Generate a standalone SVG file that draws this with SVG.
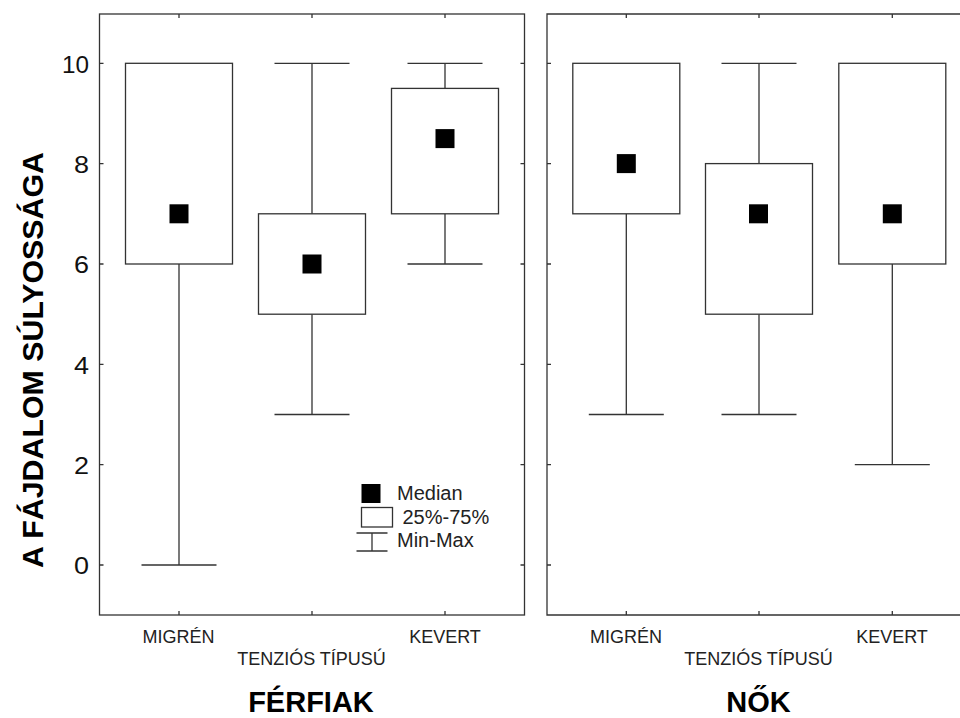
<svg xmlns="http://www.w3.org/2000/svg" width="960" height="718" viewBox="0 0 960 718">
<style>
.ln{stroke:#333;stroke-width:1.3;fill:none}
.bx{stroke:#333;stroke-width:1.3;fill:#fff}
.md{fill:#000}
.tk{font-family:"Liberation Sans",Arial,sans-serif;font-size:23px;fill:#111;text-anchor:end}
.cat{font-family:"Liberation Sans",Arial,sans-serif;font-size:18px;fill:#222;text-anchor:middle}
.ttl{font-family:"Liberation Sans",Arial,sans-serif;font-size:29px;font-weight:bold;fill:#000;text-anchor:middle}
.lg{font-family:"Liberation Sans",Arial,sans-serif;font-size:20px;fill:#222}
</style>
<rect width="960" height="718" fill="#fff"/>

<g id="panel-ferfiak">
<rect class="ln" x="99.5" y="14" width="425" height="601"/>
<path class="ln" d="M99.5 63.3h4M99.5 163.6h4M99.5 264h4M99.5 364.3h4M99.5 464.7h4M99.5 565h4M524.5 63.3h-4M524.5 163.6h-4M524.5 264h-4M524.5 364.3h-4M524.5 464.7h-4M524.5 565h-4M179 14v4M312 14v4M445 14v4M179 615v-4M312 615v-4M445 615v-4"/>
</g>

<g id="panel-nok">
<path class="ln" d="M961 14H547V615H961"/>
<path class="ln" d="M547 63.3h4M547 163.6h4M547 264h4M547 364.3h4M547 464.7h4M547 565h4M626.3 14v4M759 14v4M892.3 14v4M626.3 615v-4M759 615v-4M892.3 615v-4"/>
</g>

<g id="y-axis">
<text class="tk" x="89" y="72.5" textLength="27" lengthAdjust="spacingAndGlyphs">10</text>
<text class="tk" x="89" y="172.8" textLength="15" lengthAdjust="spacingAndGlyphs">8</text>
<text class="tk" x="89" y="273.2" textLength="15" lengthAdjust="spacingAndGlyphs">6</text>
<text class="tk" x="89" y="373.5" textLength="15" lengthAdjust="spacingAndGlyphs">4</text>
<text class="tk" x="89" y="473.9" textLength="15" lengthAdjust="spacingAndGlyphs">2</text>
<text class="tk" x="89" y="574.2" textLength="15" lengthAdjust="spacingAndGlyphs">0</text>
<text class="ttl" font-size="30" transform="translate(42.5,360) rotate(-90)" textLength="416" lengthAdjust="spacingAndGlyphs">A FÁJDALOM SÚLYOSSÁGA</text>
</g>

<g id="box-ferfiak-migren">
<path class="ln" d="M179 264V565M141.5 565h75"/>
<rect class="bx" x="125.5" y="63.3" width="107" height="200.7"/>
<rect class="md" x="169.5" y="204.3" width="19" height="19"/>
</g>
<g id="box-ferfiak-tenzios">
<path class="ln" d="M312 213.8V63.3M274.5 63.3h75M312 314.2V414.5M274.5 414.5h75"/>
<rect class="bx" x="258.5" y="213.8" width="107" height="100.4"/>
<rect class="md" x="302.5" y="254.5" width="19" height="19"/>
</g>
<g id="box-ferfiak-kevert">
<path class="ln" d="M445 88.4V63.3M407.5 63.3h75M445 213.8V264M407.5 264h75"/>
<rect class="bx" x="391.5" y="88.4" width="107" height="125.4"/>
<rect class="md" x="435.5" y="129.1" width="19" height="19"/>
</g>

<g id="box-nok-migren">
<path class="ln" d="M626.3 213.8V414.5M588.8 414.5h75"/>
<rect class="bx" x="572.8" y="63.3" width="107" height="150.5"/>
<rect class="md" x="616.8" y="154.1" width="19" height="19"/>
</g>
<g id="box-nok-tenzios">
<path class="ln" d="M759 163.6V63.3M721.5 63.3h75M759 314.2V414.5M721.5 414.5h75"/>
<rect class="bx" x="705.5" y="163.6" width="107" height="150.6"/>
<rect class="md" x="749" y="204.3" width="19" height="19"/>
</g>
<g id="box-nok-kevert">
<path class="ln" d="M892.3 264V464.7M854.8 464.7h75"/>
<rect class="bx" x="838.8" y="63.3" width="107" height="200.7"/>
<rect class="md" x="882.8" y="204.3" width="19" height="19"/>
</g>

<g id="legend">
<rect class="md" x="361.5" y="484" width="19" height="19"/>
<text class="lg" x="397" y="499.5">Median</text>
<rect class="bx" x="361.5" y="507.5" width="31" height="19.5"/>
<text class="lg" x="402.5" y="524">25%-75%</text>
<path class="ln" d="M356.5 533h31M372 533V551M356.5 551h31"/>
<text class="lg" x="397" y="547">Min-Max</text>
</g>

<g id="x-labels">
<text class="cat" x="178.5" y="642.5">MIGRÉN</text>
<text class="cat" x="311.5" y="664.5">TENZIÓS TÍPUSÚ</text>
<text class="cat" x="445" y="642.5">KEVERT</text>
<text class="cat" x="626" y="642.5">MIGRÉN</text>
<text class="cat" x="758.5" y="664.5">TENZIÓS TÍPUSÚ</text>
<text class="cat" x="892" y="642.5">KEVERT</text>
<text class="ttl" x="311" y="712">FÉRFIAK</text>
<text class="ttl" x="758.5" y="712">NŐK</text>
</g>
</svg>
